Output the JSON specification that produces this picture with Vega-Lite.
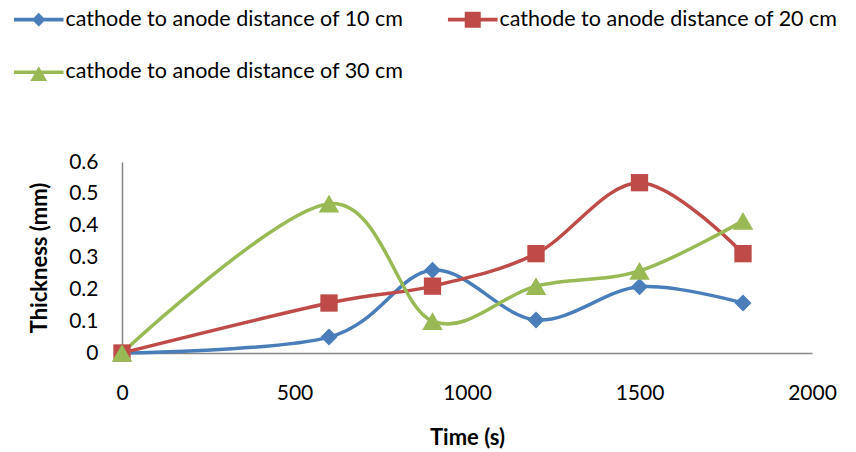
{
  "$schema": "https://vega.github.io/schema/vega-lite/v6.json",
  "width": 690,
  "height": 191,
  "autosize": "none",
  "padding": {"left": 122, "top": 162, "right": 44, "bottom": 99},
  "background": "white",
  "config": {"view": {"stroke": null}, "font": "Lato"},
  "data": {
    "values": [
      {"series": "cathode to anode distance of 10 cm", "time": 0, "thickness": 0},
      {"series": "cathode to anode distance of 10 cm", "time": 600, "thickness": 0.05},
      {"series": "cathode to anode distance of 10 cm", "time": 900, "thickness": 0.26},
      {"series": "cathode to anode distance of 10 cm", "time": 1200, "thickness": 0.104},
      {"series": "cathode to anode distance of 10 cm", "time": 1500, "thickness": 0.208},
      {"series": "cathode to anode distance of 10 cm", "time": 1800, "thickness": 0.157},
      {"series": "cathode to anode distance of 20 cm", "time": 0, "thickness": 0},
      {"series": "cathode to anode distance of 20 cm", "time": 600, "thickness": 0.157},
      {"series": "cathode to anode distance of 20 cm", "time": 900, "thickness": 0.21},
      {"series": "cathode to anode distance of 20 cm", "time": 1200, "thickness": 0.312},
      {"series": "cathode to anode distance of 20 cm", "time": 1500, "thickness": 0.535},
      {"series": "cathode to anode distance of 20 cm", "time": 1800, "thickness": 0.312},
      {"series": "cathode to anode distance of 30 cm", "time": 0, "thickness": 0},
      {"series": "cathode to anode distance of 30 cm", "time": 600, "thickness": 0.469},
      {"series": "cathode to anode distance of 30 cm", "time": 900, "thickness": 0.1},
      {"series": "cathode to anode distance of 30 cm", "time": 1200, "thickness": 0.21},
      {"series": "cathode to anode distance of 30 cm", "time": 1500, "thickness": 0.258},
      {"series": "cathode to anode distance of 30 cm", "time": 1800, "thickness": 0.415}
    ]
  },
  "encoding": {
    "x": {
      "field": "time", "type": "quantitative",
      "scale": {"domain": [0, 2000], "nice": false, "zero": false},
      "axis": {
        "values": [0, 500, 1000, 1500, 2000], "format": "d", "title": "Time (s)", "grid": false, "ticks": false,
        "domainColor": "#868686", "domainWidth": 1.5, "labelFontSize": 21, "labelFont": "Lato",
        "labelColor": "black", "labelPadding": 29, "labelFlush": false, "labelOverlap": false,
        "titleFontSize": 22, "titleFont": "Lato", "titleFontWeight": "bold", "titleColor": "black", "titlePadding": 24
      }
    },
    "y": {
      "field": "thickness", "type": "quantitative",
      "scale": {"domain": [0, 0.6], "nice": false},
      "axis": {
        "values": [0, 0.1, 0.2, 0.3, 0.4, 0.5, 0.6], "format": ".1~f", "title": "Thickness (mm)",
        "grid": false, "ticks": false, "domainColor": "#868686", "domainWidth": 1.5,
        "labelFontSize": 21, "labelFont": "Lato", "labelColor": "black", "labelPadding": 24,
        "labelFlush": false, "labelOverlap": false,
        "titleFontSize": 22, "titleFont": "Lato", "titleFontWeight": "bold", "titleColor": "black", "titlePadding": 17
      }
    },
    "color": {
      "field": "series", "type": "nominal",
      "scale": {"domain": ["cathode to anode distance of 10 cm", "cathode to anode distance of 20 cm", "cathode to anode distance of 30 cm"], "range": ["#4A7EBB", "#BE4B48", "#98B954"]},
      "legend": {
        "title": null, "orient": "none", "legendX": -94, "legendY": -153.5, "columns": 2,
        "direction": "horizontal", "symbolSize": 256, "symbolOpacity": 1, "symbolStrokeWidth": 0,
        "labelFontSize": 21.5, "labelFont": "Lato", "labelColor": "black", "labelOffset": 16,
        "labelLimit": 500, "columnPadding": 43, "rowPadding": 30, "padding": 0
      }
    }
  },
  "layer": [
    {
      "mark": {"type": "line", "interpolate": "cardinal", "strokeWidth": 3.5}
    },
    {
      "transform": [{"filter": "datum.series === 'cathode to anode distance of 10 cm'"}],
      "mark": {"type": "point", "filled": true, "opacity": 1, "shape": "diamond", "size": 290}
    },
    {
      "transform": [{"filter": "datum.series === 'cathode to anode distance of 20 cm'"}],
      "mark": {"type": "point", "filled": true, "opacity": 1, "shape": "square", "size": 300}
    },
    {
      "transform": [{"filter": "datum.series === 'cathode to anode distance of 30 cm'"}],
      "mark": {"type": "point", "filled": true, "opacity": 1, "shape": "triangle-up", "size": 420}
    },
    {
      "mark": {"type": "point", "filled": true, "opacity": 0, "size": 256},
      "encoding": {
        "shape": {
          "field": "series", "type": "nominal",
          "scale": {
            "domain": ["cathode to anode distance of 10 cm", "cathode to anode distance of 20 cm", "cathode to anode distance of 30 cm"],
            "range": [
              "M-3.1,-0.22H3.1V0.22H-3.1Z M0,-0.85L0.85,0L0,0.85L-0.85,0Z",
              "M-3.1,-0.22H3.1V0.22H-3.1Z M-1,-1H1V1H-1Z",
              "M-3.1,-0.22H3.1V0.22H-3.1Z M0,-0.75L1.05,1.1L-1.05,1.1Z"
            ]
          },
          "legend": {
            "title": null, "orient": "none", "legendX": -94, "legendY": -153.5, "columns": 2,
            "direction": "horizontal", "symbolSize": 256, "symbolOpacity": 1, "symbolStrokeWidth": 0,
            "labelFontSize": 21.5, "labelFont": "Lato", "labelColor": "black", "labelOffset": 16,
            "labelLimit": 500, "columnPadding": 43, "rowPadding": 30, "padding": 0
          }
        }
      }
    }
  ]
}
